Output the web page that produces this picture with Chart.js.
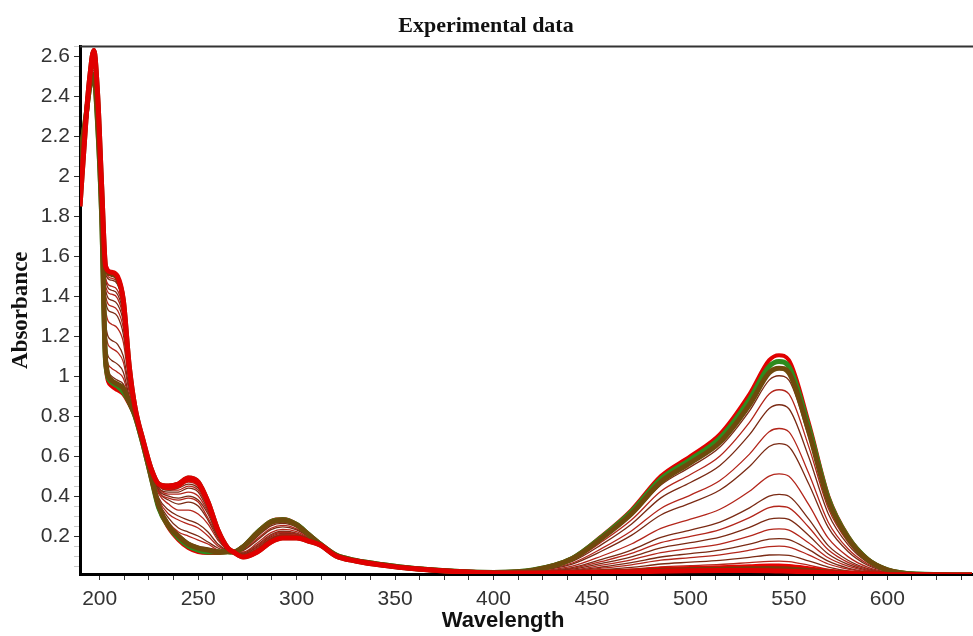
<!DOCTYPE html>
<html><head><meta charset="utf-8">
<script src="https://cdn.jsdelivr.net/npm/chart.js@4/dist/chart.umd.min.js"></script>
<style>html,body{margin:0;padding:0;background:#fff;}#wrap{width:973px;height:636px;}</style>
</head><body><div id="wrap"><canvas id="c" width="973" height="636"></canvas></div>
<script>
const chartTitle = 'Experimental data';
const xAxisTitle = 'Wavelength';
const yAxisTitle = 'Absorbance';

const wavelengths = [190,193,195,197,199, 201,203,206,209,212, 215,218,222,226,230, 235,240,245,250,255, 260,265,268,273,280, 287,293,300,306,312, 320,330,345,360,380, 400,420,440,455,470, 485,500,515,530,540, 545,550,560,570,580, 590,600,615,643];

const spectrum01 = [1.85,2.28,2.50,2.63,2.40, 1.95,1.55,1.52,1.50,1.38, 1.05,0.84,0.68,0.54,0.46, 0.45,0.46,0.49,0.47,0.37, 0.23,0.14,0.12,0.095,0.12, 0.17,0.19,0.19,0.175,0.155, 0.100,0.075,0.052,0.036,0.022, 0.015,0.015,0.016,0.018,0.020, 0.024,0.026,0.027,0.027,0.026, 0.025,0.024,0.020,0.016,0.012, 0.010,0.008,0.006,0.005];
const spectrum02 = [1.85,2.28,2.50,2.63,2.40, 1.95,1.545,1.51,1.49,1.38, 1.05,0.84,0.68,0.54,0.46, 0.45,0.46,0.49,0.47,0.37, 0.23,0.14,0.12,0.096,0.121, 0.171,0.191,0.191,0.175,0.155, 0.100,0.075,0.052,0.036,0.022, 0.015,0.015,0.017,0.020,0.023, 0.029,0.032,0.034,0.036,0.037, 0.036,0.035,0.028,0.020,0.014, 0.011,0.008,0.006,0.005];
const spectrum03 = [1.86,2.28,2.50,2.63,2.40, 1.95,1.54,1.51,1.49,1.37, 1.045,0.84,0.68,0.54,0.46, 0.44,0.45,0.48,0.46,0.36, 0.23,0.14,0.12,0.096,0.123, 0.173,0.192,0.192,0.176,0.155, 0.100,0.075,0.052,0.036,0.022, 0.015,0.015,0.018,0.023,0.028, 0.036,0.040,0.044,0.049,0.052, 0.052,0.050,0.039,0.026,0.017, 0.012,0.009,0.006,0.005];
const spectrum04 = [1.86,2.28,2.50,2.62,2.39, 1.94,1.53,1.49,1.47,1.36, 1.04,0.84,0.68,0.54,0.455, 0.44,0.45,0.47,0.45,0.36, 0.225,0.14,0.12,0.098,0.125, 0.175,0.194,0.193,0.177,0.155, 0.100,0.075,0.052,0.036,0.022, 0.015,0.016,0.019,0.026,0.034, 0.045,0.052,0.058,0.067,0.073, 0.074,0.072,0.054,0.033,0.021, 0.013,0.009,0.006,0.005];
const spectrum05 = [1.87,2.28,2.50,2.62,2.39, 1.94,1.51,1.48,1.46,1.35, 1.04,0.84,0.68,0.54,0.45, 0.43,0.44,0.46,0.44,0.35, 0.22,0.14,0.12,0.099,0.128, 0.178,0.197,0.195,0.178,0.155, 0.100,0.075,0.052,0.036,0.022, 0.015,0.016,0.022,0.032,0.043, 0.060,0.069,0.078,0.093,0.105, 0.106,0.103,0.076,0.045,0.026, 0.016,0.010,0.006,0.005];
const spectrum06 = [1.88,2.28,2.49,2.62,2.38, 1.93,1.49,1.45,1.43,1.33, 1.03,0.84,0.68,0.54,0.45, 0.43,0.43,0.45,0.43,0.34, 0.22,0.14,0.12,0.101,0.132, 0.182,0.201,0.198,0.179,0.156, 0.101,0.075,0.052,0.036,0.022, 0.015,0.017,0.025,0.039,0.056, 0.079,0.092,0.106,0.129,0.147, 0.149,0.145,0.106,0.060,0.034, 0.019,0.011,0.006,0.005];
const spectrum07 = [1.89,2.28,2.49,2.61,2.38, 1.93,1.48,1.43,1.41,1.31, 1.02,0.83,0.68,0.53,0.44, 0.42,0.42,0.44,0.42,0.33, 0.21,0.137,0.12,0.103,0.135, 0.186,0.204,0.201,0.180,0.156, 0.101,0.075,0.052,0.036,0.022, 0.015,0.017,0.027,0.045,0.067, 0.095,0.112,0.130,0.160,0.184, 0.187,0.182,0.133,0.074,0.040, 0.021,0.012,0.007,0.005];
const spectrum08 = [1.90,2.28,2.49,2.60,2.37, 1.92,1.45,1.41,1.39,1.29, 1.01,0.83,0.68,0.53,0.44, 0.41,0.41,0.42,0.40,0.32, 0.21,0.136,0.12,0.106,0.140, 0.191,0.209,0.204,0.182,0.156, 0.101,0.075,0.052,0.036,0.022, 0.015,0.018,0.030,0.054,0.081, 0.117,0.138,0.160,0.199,0.232, 0.236,0.230,0.166,0.091,0.049, 0.025,0.013,0.007,0.005];
const spectrum09 = [1.91,2.28,2.49,2.60,2.36, 1.91,1.43,1.38,1.36,1.27, 1.00,0.83,0.68,0.53,0.43, 0.40,0.39,0.40,0.38,0.31, 0.20,0.135,0.12,0.109,0.145, 0.196,0.213,0.207,0.184,0.156, 0.101,0.075,0.053,0.036,0.022, 0.016,0.019,0.034,0.063,0.096, 0.141,0.167,0.194,0.243,0.284, 0.290,0.283,0.204,0.110,0.058, 0.028,0.014,0.007,0.005];
const spectrum10 = [1.93,2.29,2.49,2.59,2.36, 1.91,1.40,1.35,1.33,1.24, 0.99,0.83,0.67,0.53,0.42, 0.39,0.38,0.39,0.37,0.29, 0.20,0.134,0.12,0.112,0.150, 0.202,0.219,0.211,0.186,0.157, 0.102,0.075,0.053,0.036,0.022, 0.016,0.020,0.038,0.073,0.113, 0.167,0.198,0.232,0.292,0.342, 0.349,0.341,0.245,0.131,0.068, 0.033,0.015,0.007,0.005];
const spectrum11 = [1.94,2.29,2.48,2.58,2.35, 1.90,1.37,1.32,1.30,1.21, 0.98,0.83,0.67,0.53,0.42, 0.38,0.36,0.37,0.35,0.28, 0.19,0.133,0.12,0.115,0.156, 0.207,0.224,0.215,0.187,0.157, 0.102,0.076,0.053,0.037,0.023, 0.016,0.020,0.042,0.083,0.130, 0.193,0.230,0.270,0.341,0.400, 0.408,0.399,0.286,0.152,0.079, 0.037,0.017,0.007,0.005];
const spectrum12 = [1.96,2.29,2.48,2.57,2.33, 1.88,1.33,1.26,1.24,1.17, 0.96,0.82,0.67,0.52,0.41, 0.36,0.33,0.33,0.31,0.26, 0.18,0.131,0.12,0.120,0.165, 0.217,0.233,0.222,0.191,0.157, 0.102,0.076,0.053,0.037,0.023, 0.016,0.022,0.049,0.100,0.160, 0.238,0.284,0.334,0.424,0.500, 0.511,0.499,0.358,0.189,0.097, 0.044,0.019,0.008,0.005];
const spectrum13 = [2.00,2.29,2.47,2.55,2.31, 1.86,1.26,1.18,1.16,1.10, 0.94,0.82,0.67,0.52,0.39, 0.33,0.30,0.28,0.26,0.22, 0.16,0.128,0.12,0.128,0.179, 0.232,0.246,0.231,0.196,0.158, 0.103,0.076,0.053,0.037,0.023, 0.017,0.024,0.060,0.125,0.203, 0.305,0.365,0.430,0.548,0.648, 0.662,0.647,0.463,0.243,0.123, 0.054,0.022,0.008,0.005];
const spectrum14 = [2.02,2.29,2.47,2.54,2.30, 1.85,1.22,1.14,1.12,1.07, 0.92,0.81,0.67,0.51,0.38, 0.31,0.28,0.26,0.24,0.20, 0.15,0.127,0.12,0.131,0.186, 0.239,0.253,0.236,0.198,0.158, 0.103,0.076,0.053,0.037,0.023, 0.017,0.025,0.065,0.138,0.225, 0.338,0.405,0.478,0.610,0.722, 0.738,0.721,0.515,0.269,0.136, 0.060,0.024,0.008,0.005];
const spectrum15 = [2.04,2.30,2.46,2.53,2.28, 1.83,1.17,1.08,1.06,1.02, 0.90,0.81,0.66,0.51,0.37, 0.29,0.24,0.22,0.20,0.17, 0.14,0.125,0.12,0.137,0.197, 0.251,0.263,0.244,0.202,0.159, 0.104,0.077,0.054,0.037,0.023, 0.017,0.027,0.073,0.158,0.259, 0.391,0.468,0.553,0.707,0.838, 0.857,0.837,0.598,0.312,0.157, 0.068,0.026,0.009,0.005];
const spectrum16 = [2.06,2.30,2.46,2.52,2.27, 1.82,1.13,1.04,1.02,0.99, 0.89,0.81,0.66,0.51,0.36, 0.27,0.22,0.20,0.18,0.16, 0.13,0.123,0.12,0.141,0.204, 0.258,0.270,0.249,0.204,0.159, 0.104,0.077,0.054,0.038,0.024, 0.018,0.028,0.078,0.171,0.280, 0.424,0.508,0.601,0.769,0.911, 0.932,0.911,0.650,0.339,0.170, 0.073,0.028,0.009,0.005];
const spectrum17 = [2.08,2.30,2.45,2.51,2.26, 1.81,1.10,1.00,0.98,0.96, 0.88,0.80,0.66,0.50,0.35, 0.26,0.21,0.17,0.15,0.14, 0.13,0.122,0.12,0.145,0.211, 0.265,0.276,0.253,0.207,0.160, 0.105,0.078,0.055,0.038,0.024, 0.018,0.029,0.083,0.183,0.301, 0.455,0.546,0.645,0.826,0.980, 1.002,0.980,0.699,0.364,0.182, 0.078,0.030,0.009,0.005];
const spectrum18 = [2.09,2.30,2.45,2.51,2.26, 1.81,1.08,0.98,0.96,0.94, 0.87,0.80,0.66,0.50,0.35, 0.25,0.20,0.16,0.14,0.13, 0.12,0.121,0.12,0.147,0.214, 0.269,0.279,0.256,0.208,0.160, 0.105,0.078,0.055,0.038,0.024, 0.018,0.029,0.086,0.189,0.311, 0.471,0.566,0.669,0.857,1.017, 1.040,1.017,0.725,0.377,0.189, 0.081,0.031,0.009,0.005];
const spectrum19 = [2.09,2.30,2.45,2.50,2.25, 1.80,1.07,0.97,0.95,0.92, 0.87,0.80,0.66,0.50,0.34, 0.25,0.19,0.15,0.13,0.12, 0.12,0.121,0.12,0.148,0.217, 0.272,0.282,0.258,0.209,0.160, 0.105,0.078,0.055,0.038,0.024, 0.018,0.030,0.088,0.195,0.321, 0.486,0.583,0.690,0.884,1.048, 1.073,1.048,0.748,0.389,0.194, 0.083,0.031,0.010,0.005];
const spectrum20 = [2.10,2.30,2.45,2.50,2.25, 1.80,1.05,0.95,0.93,0.91, 0.86,0.80,0.66,0.50,0.34, 0.24,0.18,0.14,0.12,0.115, 0.115,0.12,0.12,0.150,0.220, 0.275,0.285,0.260,0.210,0.160, 0.105,0.078,0.055,0.038,0.024, 0.018,0.030,0.090,0.200,0.330, 0.500,0.600,0.710,0.910,1.080, 1.105,1.080,0.770,0.400,0.200, 0.085,0.032,0.010,0.005];

const xTickLabels = [200,250,300,350,400,450,500,550,600];
const yTickLabels = [0.2,0.4,0.6,0.8,1,1.2,1.4,1.6,1.8,2,2.2,2.4,2.6];

const spectra = [spectrum01,spectrum02,spectrum03,spectrum04,spectrum05,spectrum06,spectrum07,spectrum08,spectrum09,spectrum10,
                 spectrum11,spectrum12,spectrum13,spectrum14,spectrum15,spectrum16,spectrum17,spectrum18,spectrum19,spectrum20];

function styleFor(i, n) {
  if (i === 0) return {c:'#e00000', w:5, o:1};
  if (i === 1) return {c:'#7a3a0a', w:5, o:1};
  if (i === 2) return {c:'#e80000', w:4, o:1};
  if (i === n-3) return {c:'#6e4a0c', w:5, o:1};
  if (i === n-2) return {c:'#2e8b1e', w:5, o:1};
  if (i === n-1) return {c:'#e00000', w:4, o:1};
  return {c: (i % 2 === 0) ? '#7a2a14' : '#b3261b', w:1.3, o:2};
}

const datasets = spectra.map((s, i) => {
  const st = styleFor(i, spectra.length);
  return {
    label: 'Spectrum ' + (i+1),
    data: wavelengths.map((w, k) => ({x: w, y: s[k]})),
    borderColor: st.c, borderWidth: st.w, order: st.o,
    pointRadius: 0, fill: false, cubicInterpolationMode: 'monotone'
  };
});

const near = (v, list) => list.some(t => Math.abs(v - t) < 1e-6);

const decor = {
  id: 'decor',
  afterDraw(chart) {
    const c = chart.ctx, a = chart.chartArea;
    c.save();
    c.strokeStyle = '#333'; c.lineWidth = 2;
    c.beginPath(); c.moveTo(a.left, a.top); c.lineTo(chart.width, a.top); c.stroke();
    c.font = 'bold 22px "Liberation Sans", Arial, sans-serif';
    c.fillStyle = '#111'; c.textAlign = 'center'; c.textBaseline = 'middle';
    c.fillText(xAxisTitle, 503, 621);
    c.restore();
  }
};

const tickFont = {family: '"Liberation Sans", Arial, sans-serif', size: 21};

new Chart(document.getElementById('c').getContext('2d'), {
  type: 'line',
  data: {datasets},
  plugins: [decor],
  options: {
    responsive: false, animation: false,
    layout: {padding: {left: 0, right: 1, top: 0, bottom: 0}},
    plugins: {
      legend: {display: false}, tooltip: {enabled: false},
      title: {display: true, text: chartTitle, color: '#111',
              font: {family: '"Liberation Serif", "Times New Roman", serif', size: 22, weight: 'bold'},
              padding: {top: 13, bottom: 7}}
    },
    scales: {
      x: {
        type: 'linear', min: 190, max: 643,
        border: {display: true, color: '#000', width: 3},
        grid: {display: true, drawOnChartArea: false, drawTicks: true, tickLength: 6, color: '#333', lineWidth: 1},
        ticks: {stepSize: 12.5, includeBounds: false, autoSkip: false, maxRotation: 0, padding: 7, color: '#333', font: tickFont,
                callback: v => near(v, xTickLabels) ? String(Math.round(v)) : ''},
        afterFit: s => { s.height = 62; }
      },
      y: {
        type: 'linear', min: 0.01, max: 2.65,
        border: {display: true, color: '#000', width: 3},
        grid: {display: true, drawOnChartArea: false, drawTicks: true, tickLength: 6, lineWidth: 1,
               tickColor: ctx => (ctx.tick && near(ctx.tick.value, yTickLabels)) ? '#333' : '#c8c8c8'},
        ticks: {stepSize: 0.05, includeBounds: false, autoSkip: false, padding: 4, color: '#333', font: tickFont,
                callback: v => near(v, yTickLabels) ? String(Number(v.toFixed(1))) : ''},
        title: {display: true, text: yAxisTitle, color: '#111',
                font: {family: '"Liberation Serif", "Times New Roman", serif', size: 23, weight: 'bold'},
                padding: {top: 7, bottom: 0}},
        afterFit: s => { s.width = 80; }
      }
    }
  }
});
</script>
</body></html>
